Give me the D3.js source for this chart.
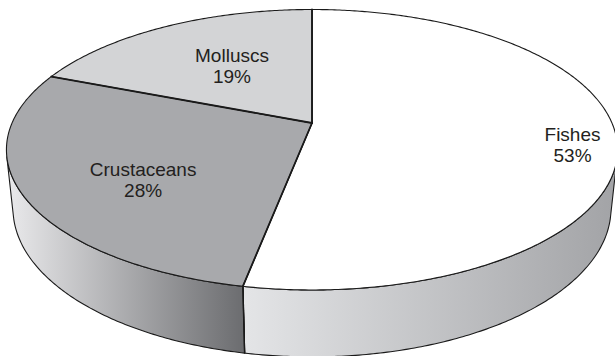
<!DOCTYPE html>
<html>
<head>
<meta charset="utf-8">
<script src="https://cdn.jsdelivr.net/npm/d3@7"></script>
<style>
html,body{margin:0;padding:0;background:#fff;}
svg{display:block;}
</style>
</head>
<body>
<svg id="chart" width="615" height="356"></svg>
<script>
// ---- data ----
const categories = ["Fishes", "Crustaceans", "Molluscs"];
const shares = [53, 28, 19];
const valueLabels = ["53%", "28%", "19%"];

// ---- styles ----
const topColors = ["#ffffff", "#a8a9ac", "#d3d4d6"];
const sideLight = ["#e4e5e7", "#eaeaec", "#e4e5e7"];
const sideDark  = ["#a2a3a6", "#6b6c6f", "#9c9da0"];
const labelT = [0.526, 0.425, 0.534];   // position within slice
const labelR = [0.857, 0.648, 0.55];    // fraction of radius

const W = 615, H = 356;
// perspective camera for a unit-radius disc
const cam = {cx: 312, cy: 123, f: 1405, D: 4.684, phi: Math.asin(0.4505), depth: 0.221};
const sP = Math.sin(cam.phi), cP = Math.cos(cam.phi);

function proj(a, r, h) {
  const u = r * Math.sin(a), v = -r * Math.cos(a);
  const yc = v * sP - h * cP;
  const zc = cam.D - v * cP - h * sP;
  return [cam.cx + cam.f * u / zc, cam.cy + cam.f * yc / zc];
}

const svg = d3.select("#chart");
const defs = svg.append("defs");
const pie = d3.pie().sort(null).value(d => d)(shares);
const line = d3.line();

function arcPts(a0, a1, h) {
  const n = Math.max(2, Math.ceil(Math.abs(a1 - a0) / 0.01));
  return d3.range(n + 1).map(i => proj(a0 + (a1 - a0) * i / n, 1, h));
}

// visible side range (silhouette angles)
const aS = Math.acos(-1 / (cam.D * cP));
const visA0 = aS, visA1 = 2 * Math.PI - aS;

// sides
pie.forEach((p, i) => {
  const a0 = Math.max(p.startAngle, visA0), a1 = Math.min(p.endAngle, visA1);
  if (a1 <= a0) return;
  const topArc = arcPts(a0, a1, 0);
  const botArc = arcPts(a1, a0, -cam.depth);
  const pts = topArc.concat(botArc);
  const xs = pts.map(d => d[0]);
  const gid = "side" + i;
  const g = defs.append("linearGradient").attr("id", gid)
    .attr("gradientUnits", "userSpaceOnUse")
    .attr("x1", d3.min(xs)).attr("x2", d3.max(xs)).attr("y1", 0).attr("y2", 0);
  g.append("stop").attr("offset", "0%").attr("stop-color", sideLight[i]);
  g.append("stop").attr("offset", "100%").attr("stop-color", sideDark[i]);
  svg.append("path")
    .attr("d", line(pts) + "Z")
    .attr("fill", `url(#${gid})`)
    .attr("stroke", "#1a1a1a").attr("stroke-width", 1.1).attr("stroke-linejoin", "round");
  // vertical edges at slice boundaries inside the visible range
  [p.startAngle, p.endAngle].forEach(a => {
    if (a > visA0 && a < visA1) {
      const t = proj(a, 1, 0), b = proj(a, 1, -cam.depth);
      svg.append("line").attr("x1", t[0]).attr("y1", t[1]).attr("x2", b[0]).attr("y2", b[1])
        .attr("stroke", "#1a1a1a").attr("stroke-width", 1.4);
    }
  });
});

// top slices
const center = proj(0, 0, 0);
pie.forEach((p, i) => {
  const pts = [center].concat(arcPts(p.startAngle, p.endAngle, 0));
  svg.append("path")
    .attr("d", line(pts) + "Z")
    .attr("fill", topColors[i])
    .attr("stroke", "#1a1a1a").attr("stroke-width", 1.1).attr("stroke-linejoin", "round");
});
// radial edges (thicker)
pie.forEach(p => {
  const e = proj(p.startAngle, 1, 0);
  svg.append("line").attr("x1", center[0]).attr("y1", center[1]).attr("x2", e[0]).attr("y2", e[1])
    .attr("stroke", "#1a1a1a").attr("stroke-width", 1.8).attr("stroke-linecap", "round");
});

// labels
pie.forEach((p, i) => {
  const a = p.startAngle + (p.endAngle - p.startAngle) * labelT[i];
  const c = proj(a, labelR[i], 0);
  const t = svg.append("text")
    .attr("text-anchor", "middle")
    .attr("font-family", "Liberation Sans, Arial, sans-serif")
    .attr("font-size", 19).attr("fill", "#231f20");
  t.append("tspan").attr("x", c[0]).attr("y", c[1] - 3).text(categories[i]);
  t.append("tspan").attr("x", c[0]).attr("y", c[1] + 18).text(valueLabels[i]);
});
</script>
</body>
</html>
